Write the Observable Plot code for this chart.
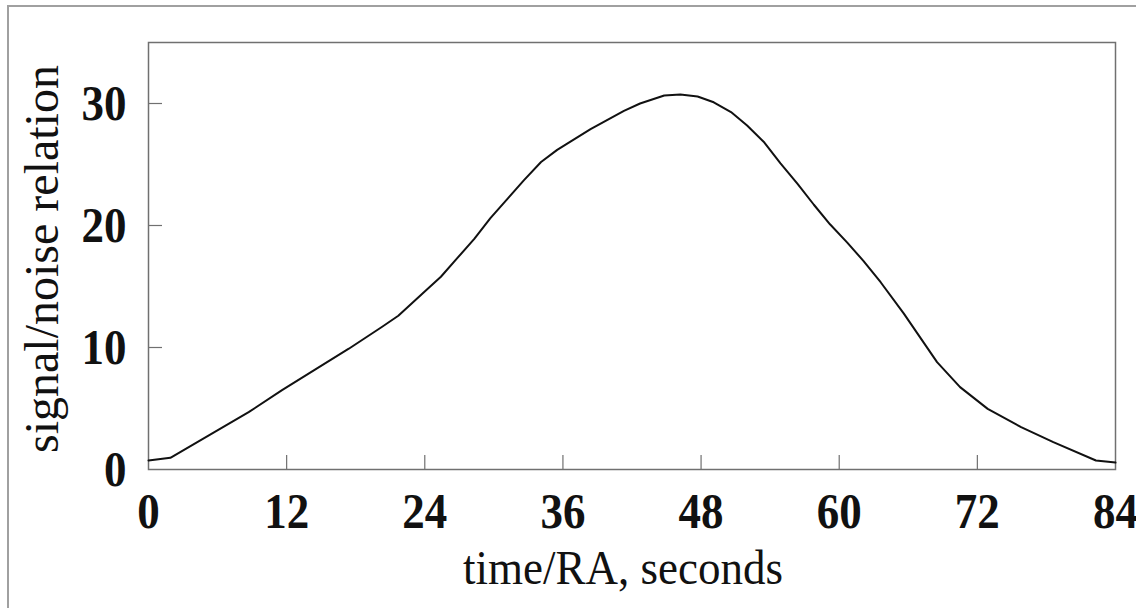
<!DOCTYPE html>
<html>
<head>
<meta charset="utf-8">
<script src="https://cdn.jsdelivr.net/npm/d3@7"></script>
<script src="https://cdn.jsdelivr.net/npm/@observablehq/plot@0.6"></script>
<style>
  html, body { margin: 0; padding: 0; background: #fff; overflow: hidden; }
  #wrap { position: relative; width: 1136px; height: 608px; overflow: hidden; }
  #edge { position: absolute; left: 7px; top: 5px; width: 1300px; height: 800px;
          border: 2px solid #a0a0a0; pointer-events: none; }
  #chart { position: absolute; left: 0; top: 0; }
</style>
</head>
<body>
<div id="wrap"><div id="chart"></div><div id="edge"></div></div>
<script>
// Signal-to-noise relation over a drift scan (time / RA in seconds)
const timeSec = [0, 1.9, 5.8, 8.7, 11.6, 14.5, 17.4, 20.3, 21.7, 23.9, 25.4, 26.8, 28.3, 29.7,
  31.2, 32.6, 34.1, 35.5, 38.4, 41.3, 42.7, 44.8, 46.2, 47.7, 49.1, 50.6, 52.0, 53.5,
  54.9, 56.4, 57.8, 59.2, 60.7, 62.1, 63.6, 65.6, 68.5, 70.5, 72.9, 75.8, 78.6, 82.3, 84];
const snr = [0.74, 0.96, 3.1, 4.7, 6.5, 8.2, 9.9, 11.7, 12.6, 14.5, 15.8, 17.3, 18.9, 20.6,
  22.2, 23.7, 25.2, 26.2, 27.9, 29.4, 30.0, 30.66, 30.74, 30.57, 30.1, 29.3, 28.2, 26.8,
  25.1, 23.4, 21.7, 20.1, 18.6, 17.1, 15.35, 12.8, 8.8, 6.75, 4.97, 3.47, 2.24, 0.74, 0.57];

const xTicks = [0, 12, 24, 36, 48, 60, 72, 84];
const yTicks = [0, 10, 20, 30];
const xTitle = "time/RA, seconds";
const yTitle = "signal/noise relation";

const rows = timeSec.map((t, i) => ({t, v: snr[i]}));

const serif = "'Liberation Serif', 'Times New Roman', serif";
const W = 1136, H = 608;
const mL = 148, mT = 42, mR = 21, mB = 139;
const innerH = H - mT - mB;
const innerW = W - mL - mR;
const tickLen = 14;
const frameColor = "#707070";

const chart = Plot.plot({
  width: W,
  height: H,
  marginLeft: mL,
  marginTop: mT,
  marginRight: mR,
  marginBottom: mB,
  style: {fontFamily: serif, background: "transparent", overflow: "visible"},
  x: {domain: [0, 84]},
  y: {domain: [0, 35]},
  marks: [
    Plot.frame({stroke: frameColor, strokeWidth: 1.5}),
    // inward ticks along the bottom and left edges
    Plot.tickX(xTicks.slice(1, -1), {x: d => d, stroke: frameColor, strokeWidth: 1.2, insetTop: innerH - tickLen}),
    Plot.tickY(yTicks.slice(1), {y: d => d, stroke: frameColor, strokeWidth: 1.2, insetRight: innerW - tickLen}),
    Plot.axisX(xTicks, {tickSize: 0, tickPadding: 23, fontSize: 45, fontWeight: "bold", fill: "#111",
      label: null, className: "tall-text"}),
    Plot.axisY(yTicks, {tickSize: 0, tickPadding: 22, fontSize: 45, fontWeight: "bold", fill: "#111",
      label: null, className: "tall-text"}),
    Plot.line(rows, {x: "t", y: "v", stroke: "#111", strokeWidth: 2, curve: "linear"}),
    Plot.text([xTitle], {text: d => d, frameAnchor: "bottom", dy: 114, dx: -9, lineAnchor: "bottom",
      textAnchor: "middle", fontSize: 45, fill: "#111", className: "tall-title"}),
    Plot.text([yTitle], {text: d => d, frameAnchor: "left", rotate: -90, dx: -91, dy: 3, lineAnchor: "bottom",
      textAnchor: "middle", fontSize: 48, fill: "#111"})
  ]
});

// The serif face is drawn slightly taller than its natural proportions
function stretchText(selector, s) {
  chart.querySelectorAll(selector + " text").forEach(t => {
    const tr = t.getAttribute("transform") || "";
    t.setAttribute("transform", `${tr} scale(1,${s})`);
  });
}
stretchText(".tall-text", 1.12);
stretchText(".tall-title", 1.1);

document.getElementById("chart").append(chart);
</script>
</body>
</html>
